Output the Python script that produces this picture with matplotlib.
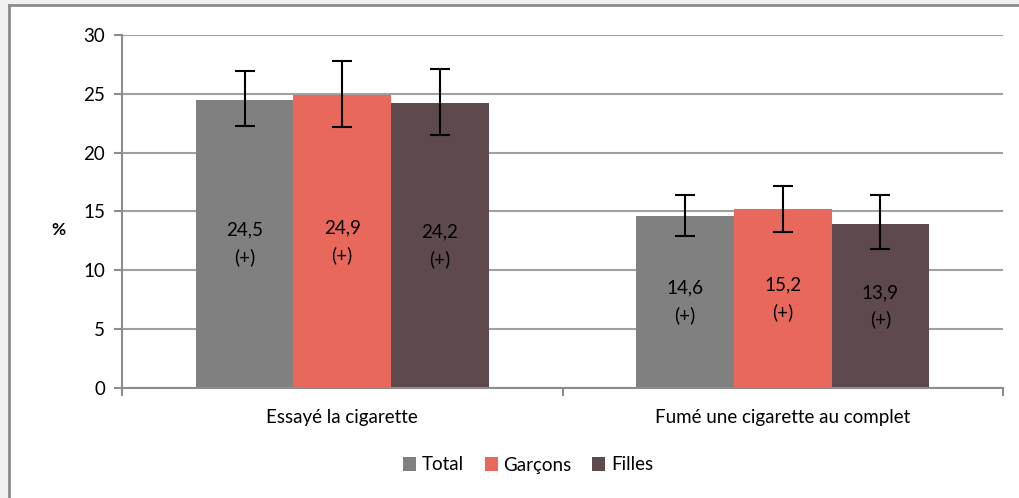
import matplotlib
matplotlib.use("Agg")
import matplotlib.pyplot as plt
import numpy as np
from matplotlib.patches import Rectangle

plt.rcParams['font.family'] = ['Lato', 'DejaVu Sans']

categories = ["Essayé la cigarette", "Fumé une cigarette au complet"]
series = ["Total", "Garçons", "Filles"]
values = {
    "Total": [24.5, 14.6],
    "Garçons": [24.9, 15.2],
    "Filles": [24.2, 13.9],
}
err_low = {
    "Total": [2.2, 1.7],
    "Garçons": [2.7, 1.9],
    "Filles": [2.7, 2.1],
}
err_high = {
    "Total": [2.4, 1.8],
    "Garçons": [2.9, 2.0],
    "Filles": [2.9, 2.5],
}
labels = {
    "Total": ["24,5\n(+)", "14,6\n(+)"],
    "Garçons": ["24,9\n(+)", "15,2\n(+)"],
    "Filles": ["24,2\n(+)", "13,9\n(+)"],
}
colors = {"Total": "#808080", "Garçons": "#E8695B", "Filles": "#5E4A4C"}
yticks = [0, 5, 10, 15, 20, 25, 30]

FS = 13.5
W, H = 1020, 498
fig = plt.figure(figsize=(W / 100, H / 100), dpi=100)
fig.patch.set_facecolor("white")
# light gray outer strips
fig.patches.append(Rectangle((0, 0), 9 / W, 1, transform=fig.transFigure,
                             facecolor="#F0F0F0", edgecolor="none", zorder=-10))
fig.patches.append(Rectangle((0, 1 - 5 / H), 1, 5 / H, transform=fig.transFigure,
                             facecolor="#F0F0F0", edgecolor="none", zorder=-10))
fig.lines.append(plt.Line2D([9.5 / W, 9.5 / W], [0, 1 - 5 / H], transform=fig.transFigure,
                            color="#8C8C8C", lw=2, zorder=-5))
fig.lines.append(plt.Line2D([9.5 / W, 1], [1 - 5.5 / H, 1 - 5.5 / H], transform=fig.transFigure,
                            color="#8C8C8C", lw=2, zorder=-5))

ax = fig.add_axes([122 / W, (H - 388) / H, 881 / W, 353 / H])
ax.set_zorder(5)
ax.set_facecolor("none")

x = np.arange(len(categories))
bw = 0.2215
for i, s in enumerate(series):
    pos = x + (i - 1) * bw
    ax.bar(pos, values[s], width=bw, color=colors[s], label=s, zorder=2)
    ax.errorbar(pos, values[s], yerr=[err_low[s], err_high[s]], fmt="none",
                ecolor="black", elinewidth=1.5, capsize=7, capthick=1.5, zorder=3)
    for p, v, lab in zip(pos, values[s], labels[s]):
        ax.text(p, v / 2, lab, ha="center", va="center", fontsize=FS,
                color="black", linespacing=1.65, zorder=4)

ax.set_xlim(-0.5, 1.5)
ax.set_ylim(0, 30)
ax.set_yticks(yticks)
ax.set_yticklabels([str(t) for t in yticks], fontsize=FS)
ax.yaxis.grid(True, color="#A0A0A0", lw=1.5, zorder=1)
ax.set_axisbelow(True)
ax.set_xticks([-0.5, 0.5, 1.5])
ax.set_xticklabels([])
ax.set_xticks(x, minor=True)
ax.set_xticklabels(categories, minor=True, fontsize=FS)
ax.tick_params(axis="x", which="minor", length=0, pad=15)
ax.tick_params(axis="x", which="major", length=6, color="#8C8C8C", width=1.5)
ax.tick_params(axis="y", length=6, color="#8C8C8C", width=1.5, pad=6)
for side in ["top", "right"]:
    ax.spines[side].set_visible(False)
for side in ["left", "bottom"]:
    ax.spines[side].set_color("#8C8C8C")
    ax.spines[side].set_linewidth(1.5)

fig.text(58 / W, 1 - 230 / H, "%", fontsize=FS - 1, fontweight="bold", ha="center", va="center")

leg = fig.legend(loc="center", bbox_to_anchor=(528 / W, 1 - 465 / H), ncol=3, frameon=False,
                 fontsize=FS, handlelength=0.7, handleheight=0.7, handletextpad=0.3,
                 columnspacing=1.1)

fig.savefig("out.png", dpi=100, facecolor=fig.get_facecolor())
